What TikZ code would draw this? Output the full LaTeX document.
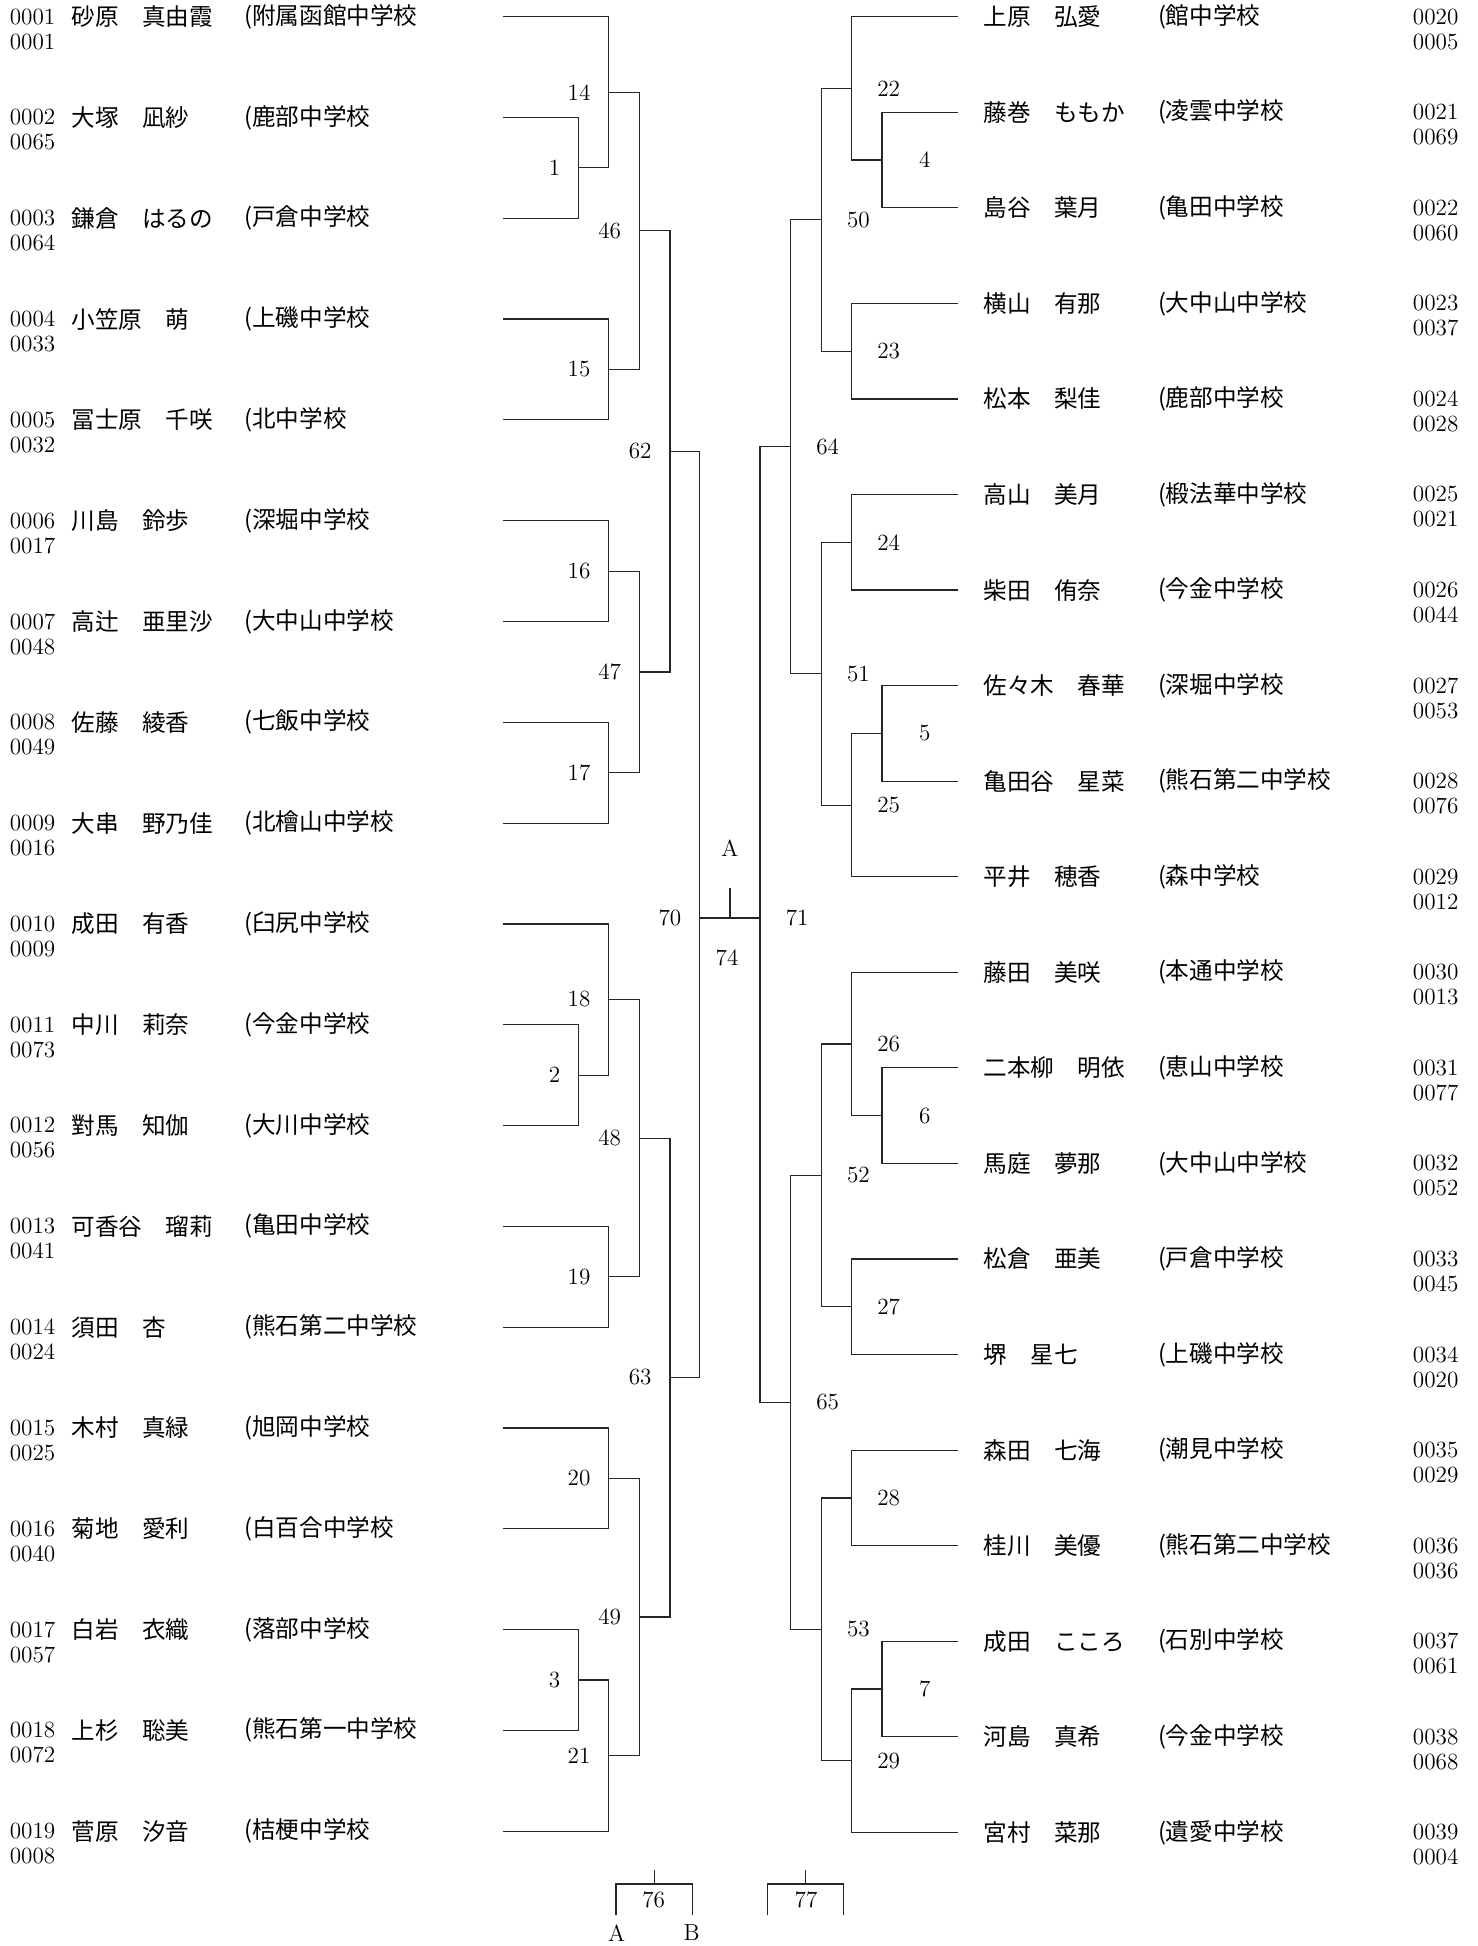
\documentclass[tikz,border=0pt]{standalone}
\usepackage{fontspec}
\newfontfamily\jpfont{Noto Sans CJK JP}
\usepackage{tikz}
\usetikzlibrary{positioning,calc}

\begin{document}
\begin{tikzpicture}[
    x=0.5pt,y=-0.5pt,
    num/.style={font=\fontsize{11.6}{13}\selectfont,inner sep=0pt,anchor=west},
    jp/.style={font=\jpfont\fontsize{11.8}{13}\selectfont,inner sep=0pt,anchor=west},
    tag/.style={font=\fontsize{11.6}{13}\selectfont,inner sep=0pt},
    ltag/.style={tag,anchor=east,xshift=-9pt},
    rtag/.style={tag,anchor=east,xshift=24.5pt},
    wire/.style={line width=0.6pt,black!85}
]
\path[fill=white,use as bounding box] (0,0) rectangle (1477,1946);

\foreach \i/\a/\b/\nm/\sc in {
    1/0001/0001/砂原　真由霞/附属函館中学校,
    2/0002/0065/大塚　凪紗/鹿部中学校,
    3/0003/0064/鎌倉　はるの/戸倉中学校,
    4/0004/0033/小笠原　萌/上磯中学校,
    5/0005/0032/冨士原　千咲/北中学校,
    6/0006/0017/川島　鈴歩/深堀中学校,
    7/0007/0048/高辻　亜里沙/大中山中学校,
    8/0008/0049/佐藤　綾香/七飯中学校,
    9/0009/0016/大串　野乃佳/北檜山中学校,
    10/0010/0009/成田　有香/臼尻中学校,
    11/0011/0073/中川　莉奈/今金中学校,
    12/0012/0056/對馬　知伽/大川中学校,
    13/0013/0041/可香谷　瑠莉/亀田中学校,
    14/0014/0024/須田　杏/熊石第二中学校,
    15/0015/0025/木村　真緑/旭岡中学校,
    16/0016/0040/菊地　愛利/白百合中学校,
    17/0017/0057/白岩　衣織/落部中学校,
    18/0018/0072/上杉　聡美/熊石第一中学校,
    19/0019/0008/菅原　汐音/桔梗中学校}{
  \pgfmathsetmacro\yy{16.7+(\i-1)*100.8}
  \coordinate (l\i) at (503,\yy);
  \node[num] (la\i) at (9.4,\yy) {\a};
  \node[num] (lb\i) at (9.4,\yy+25) {\b};
  \node[jp] (ln\i) at (71,\yy) {\nm};
  \node[jp] (ls\i) at (244,\yy) {(\sc};
}

\foreach \i/\a/\b/\nm/\sc in {
    20/0020/0005/上原　弘愛/館中学校,
    21/0021/0069/藤巻　ももか/凌雲中学校,
    22/0022/0060/島谷　葉月/亀田中学校,
    23/0023/0037/横山　有那/大中山中学校,
    24/0024/0028/松本　梨佳/鹿部中学校,
    25/0025/0021/高山　美月/椴法華中学校,
    26/0026/0044/柴田　侑奈/今金中学校,
    27/0027/0053/佐々木　春華/深堀中学校,
    28/0028/0076/亀田谷　星菜/熊石第二中学校,
    29/0029/0012/平井　穂香/森中学校,
    30/0030/0013/藤田　美咲/本通中学校,
    31/0031/0077/二本柳　明依/恵山中学校,
    32/0032/0052/馬庭　夢那/大中山中学校,
    33/0033/0045/松倉　亜美/戸倉中学校,
    34/0034/0020/堺　星七/上磯中学校,
    35/0035/0029/森田　七海/潮見中学校,
    36/0036/0036/桂川　美優/熊石第二中学校,
    37/0037/0061/成田　こころ/石別中学校,
    38/0038/0068/河島　真希/今金中学校,
    39/0039/0004/宮村　菜那/遺愛中学校}{
  \pgfmathsetmacro\yy{16.7+(\i-20)*95.56}
  \coordinate (r\i) at (958,\yy);
  \node[jp] (rn\i) at (983,\yy) {\nm};
  \node[jp] (rs\i) at (1157.6,\yy) {(\sc};
  \node[num] (ra\i) at (1412.5,\yy) {\a};
  \node[num] (rb\i) at (1412.5,\yy+25) {\b};
}

\foreach \m/\x/\y in {1/578.6/167.9, 14/608.8/92.3, 15/608.8/369.5, 46/639.5/230.9,
    16/608.8/571.1, 17/608.8/772.7, 47/639.5/671.9, 62/670/451.4,
    2/578.6/1075.1, 18/608.8/999.5, 19/608.8/1276.7, 48/639.5/1138.1,
    20/608.8/1478.3, 3/578.6/1679.9, 21/608.8/1755.5, 49/639.5/1616.9,
    63/670/1377.5, 70/699.7/918,
    4/882/160.1, 22/851.4/88.4, 23/851.4/351.2, 50/821.2/219.8,
    24/851.4/542.3, 5/882/733.4, 25/851.4/805.1, 51/821.2/673.7, 64/790.5/446.8,
    6/882/1115.7, 26/851.4/1044, 27/851.4/1306.8, 52/821.2/1175.4,
    28/851.4/1497.9, 7/882/1689, 29/851.4/1760.7, 53/821.2/1629.3,
    65/790.5/1402.4, 71/760/918}
  \coordinate (m\m) at (\x,\y);

\foreach \m in {1,14,15,46,16,17,47,62,2,18,19,48,20,3,21,49,63,70}
  \node[ltag] (t\m) at (m\m) {\m};
\foreach \m in {4,22,23,50,24,5,25,51,64,6,26,27,52,28,7,29,53,65,71}
  \node[rtag] (t\m) at (m\m) {\m};

\draw[wire] (l2) -| (m1) |- (l3);
\draw[wire] (l1) -| (m14) |- (m1);
\draw[wire] (l4) -| (m15) |- (l5);
\draw[wire] (m14) -| (m46) |- (m15);
\draw[wire] (l6) -| (m16) |- (l7);
\draw[wire] (l8) -| (m17) |- (l9);
\draw[wire] (m16) -| (m47) |- (m17);
\draw[wire] (m46) -| (m62) |- (m47);
\draw[wire] (l11) -| (m2) |- (l12);
\draw[wire] (l10) -| (m18) |- (m2);
\draw[wire] (l13) -| (m19) |- (l14);
\draw[wire] (m18) -| (m48) |- (m19);
\draw[wire] (l15) -| (m20) |- (l16);
\draw[wire] (l17) -| (m3) |- (l18);
\draw[wire] (m3) -| (m21) |- (l19);
\draw[wire] (m20) -| (m49) |- (m21);
\draw[wire] (m48) -| (m63) |- (m49);
\draw[wire] (m62) -| (m70) |- (m63);

\draw[wire] (r21) -| (m4) |- (r22);
\draw[wire] (r20) -| (m22) |- (m4);
\draw[wire] (r23) -| (m23) |- (r24);
\draw[wire] (m22) -| (m50) |- (m23);
\draw[wire] (r25) -| (m24) |- (r26);
\draw[wire] (r27) -| (m5) |- (r28);
\draw[wire] (m5) -| (m25) |- (r29);
\draw[wire] (m24) -| (m51) |- (m25);
\draw[wire] (m50) -| (m64) |- (m51);
\draw[wire] (r31) -| (m6) |- (r32);
\draw[wire] (r30) -| (m26) |- (m6);
\draw[wire] (r33) -| (m27) |- (r34);
\draw[wire] (m26) -| (m52) |- (m27);
\draw[wire] (r35) -| (m28) |- (r36);
\draw[wire] (r37) -| (m7) |- (r38);
\draw[wire] (m7) -| (m29) |- (r39);
\draw[wire] (m28) -| (m53) |- (m29);
\draw[wire] (m52) -| (m65) |- (m53);
\draw[wire] (m64) -| (m71) |- (m65);

\draw[wire] (m70) -- (m71);
\coordinate (cA) at (730,918);
\coordinate (tA) at (730,888);
\draw[wire] (cA) -- (tA);
\node[tag] (final) at (730,848) {A};
\node[tag] (t74) at (727,958) {74};

\coordinate (a76) at (616,1915);
\coordinate (b76) at (692.3,1915);
\coordinate (f76) at (654.3,1884);
\coordinate (g76) at (654.3,1870);
\draw[wire] (a76) |- (f76) -| (b76);
\draw[wire] (f76) -- (g76);
\node[tag] (t76) at (653.7,1900) {76};
\node[tag] (sideA) at (616.7,1933) {A};
\node[tag] (sideB) at (691.7,1933) {B};

\coordinate (a77) at (767.7,1915);
\coordinate (b77) at (843.3,1915);
\coordinate (f77) at (805.7,1884);
\coordinate (g77) at (805.7,1870);
\draw[wire] (a77) |- (f77) -| (b77);
\draw[wire] (f77) -- (g77);
\node[tag] (t77) at (806,1900) {77};
\end{tikzpicture}
\end{document}
